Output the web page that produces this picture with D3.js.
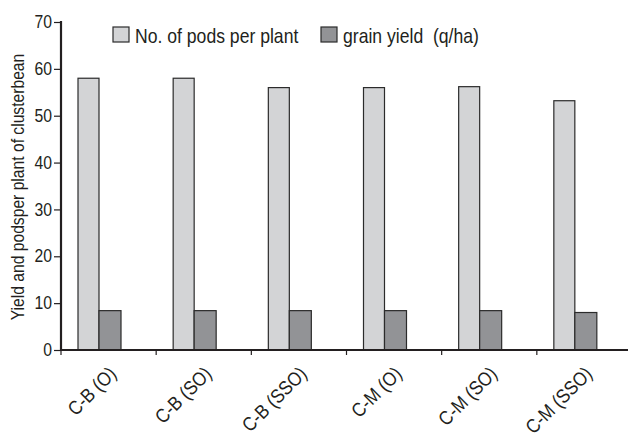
<!DOCTYPE html>
<html>
<head>
<meta charset="utf-8">
<script src="https://cdn.jsdelivr.net/npm/d3@7"></script>
<style>
  body { margin: 0; background: #fff; }
  svg text { font-family: "Liberation Sans", Arial, sans-serif; fill: #231f20; }
</style>
</head>
<body>
<div id="chart"></div>
<script>
var categories = ["C-B (O)", "C-B (SO)", "C-B (SSO)", "C-M (O)", "C-M (SO)", "C-M (SSO)"];
var pods = [58, 58, 56, 56, 56.2, 53.2];
var grain = [8.4, 8.4, 8.4, 8.4, 8.4, 8.0];
var seriesNames = ["No. of pods per plant", "grain yield  (q/ha)"];
var yTicks = [0, 10, 20, 30, 40, 50, 60, 70];

var width = 630, height = 435;
var plotLeft = 61, plotRight = 632, plotTop = 22, plotBottom = 350;
var squeeze = 0.88;   // the original type is a condensed face

var svg = d3.select("#chart").append("svg")
    .attr("width", width)
    .attr("height", height);

var x = d3.scaleBand()
    .domain(categories)
    .range([plotLeft, plotRight]);

var y = d3.scaleLinear()
    .domain([0, 70])
    .range([plotBottom, plotTop]);

var colors = ["#d3d4d6", "#929396"];
var barW = 21;

var groups = svg.selectAll(".grp")
    .data(categories)
    .enter()
    .append("g")
    .attr("transform", function(d) { return "translate(" + (x(d) + 17) + ",0)"; });

groups.append("rect")
    .attr("x", 0)
    .attr("y", function(d, i) { return y(pods[i]); })
    .attr("width", barW)
    .attr("height", function(d, i) { return y(0) - y(pods[i]); })
    .attr("fill", colors[0])
    .attr("stroke", "#2b2b2b")
    .attr("stroke-width", 1.2);

groups.append("rect")
    .attr("x", barW)
    .attr("y", function(d, i) { return y(grain[i]); })
    .attr("width", barW + 1)
    .attr("height", function(d, i) { return y(0) - y(grain[i]); })
    .attr("fill", colors[1])
    .attr("stroke", "#2b2b2b")
    .attr("stroke-width", 1.2);

// y axis
var yAxis = svg.append("g")
    .attr("transform", "translate(" + plotLeft + ",0)")
    .call(d3.axisLeft(y).tickValues(yTicks).tickSize(7).tickPadding(1));
yAxis.select(".domain").attr("stroke", "#231f20").attr("stroke-width", 2.2).attr("d", "M0," + (plotTop - 1) + "V" + (plotBottom + 1));
yAxis.selectAll(".tick line").attr("stroke", "#231f20").attr("stroke-width", 1.2);
yAxis.selectAll("text")
    .attr("font-size", 17.5)
    .attr("fill", "#231f20")
    .attr("font-family", null)
    .attr("x", null)
    .attr("transform", "translate(-9,0) scale(0.9,1)");

// x axis
var xTickPos = categories.map(function(d) { return x(d); });
var xAxis = svg.append("g").attr("class", "xaxis");
xAxis.append("line")
    .attr("x1", plotLeft - 1).attr("x2", 628)
    .attr("y1", plotBottom).attr("y2", plotBottom)
    .attr("stroke", "#231f20").attr("stroke-width", 2.2);
xAxis.selectAll(".xt")
    .data(xTickPos)
    .enter()
    .append("line")
    .attr("x1", function(d) { return d; })
    .attr("x2", function(d) { return d; })
    .attr("y1", plotBottom).attr("y2", plotBottom + 5)
    .attr("stroke", "#231f20").attr("stroke-width", 1.2);

xAxis.selectAll(".xl")
    .data(categories)
    .enter()
    .append("text")
    .attr("text-anchor", "end")
    .attr("font-size", 19.5)
    .attr("transform", function(d) {
        return "translate(" + (x(d) + x.bandwidth() / 2 + 9) + "," + (plotBottom + 25) + ") rotate(-45) scale(" + squeeze + ",1)";
    })
    .text(function(d) { return d; });

// y label
svg.append("text")
    .attr("transform", "translate(24,187) rotate(-90) scale(0.87,1)")
    .attr("text-anchor", "middle")
    .attr("font-size", 18)
    .text("Yield and podsper plant of clusterbean");

// legend
var legendX = [113, 321];
var legend = svg.selectAll(".leg")
    .data(seriesNames)
    .enter()
    .append("g")
    .attr("transform", function(d, i) { return "translate(" + legendX[i] + ",27)"; });
legend.append("rect")
    .attr("width", 16).attr("height", 15)
    .attr("fill", function(d, i) { return colors[i]; })
    .attr("stroke", "#2b2b2b").attr("stroke-width", 1.2);
legend.append("text")
    .attr("transform", "translate(22,15.5) scale(" + squeeze + ",1)")
    .attr("font-size", 20)
    .style("white-space", "pre")
    .text(function(d) { return d; });
</script>
</body>
</html>
